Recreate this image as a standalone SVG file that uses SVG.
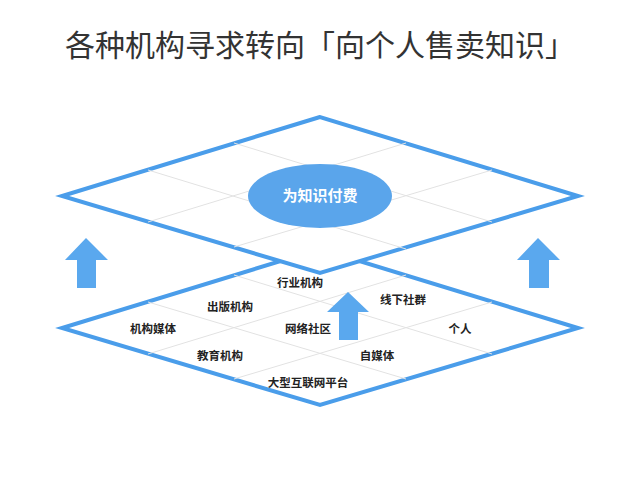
<svg xmlns="http://www.w3.org/2000/svg" width="640" height="480" viewBox="0 0 640 480">
<style>
.dia{fill:#fff;stroke:#4A9DEA;stroke-width:4;stroke-linejoin:miter}
.grid{stroke:#e2e2e2;stroke-width:1;fill:none}
.arr{fill:#5AA8EE}
.lbl{font-family:"Noto Sans CJK SC",sans-serif;font-size:11.5px;font-weight:bold;fill:#222;text-anchor:middle}
</style>
<rect width="640" height="480" fill="#fff"/>
<text x="320" y="56" font-family="Noto Sans CJK SC,sans-serif" font-size="30" fill="#333" text-anchor="middle">各种机构寻求转向「向个人售卖知识」</text>
<g id="bottom-layer">
<polygon class="dia" points="320,249 62,328 320,405 578,328"/>
<g class="grid">
<line x1="148" y1="302" x2="406" y2="379"/><line x1="234" y1="275" x2="492" y2="354"/>
<line x1="148" y1="354" x2="406" y2="275"/><line x1="234" y1="379" x2="492" y2="302"/>
</g>
</g>
<g id="top-layer">
<polygon class="dia" points="320,117 62,196 320,273 578,196"/>
<g class="grid">
<line x1="148" y1="170" x2="406" y2="249"/><line x1="234" y1="143" x2="492" y2="222"/>
<line x1="148" y1="222" x2="406" y2="143"/><line x1="234" y1="247" x2="492" y2="170"/>
</g>
</g>
<g id="center-node">
<ellipse cx="320" cy="196" rx="72" ry="32" fill="#5AA5EB"/>
<text x="320" y="201" font-family="Noto Sans CJK SC,sans-serif" font-size="15" font-weight="bold" fill="#fff" text-anchor="middle">为知识付费</text>
</g>
<g id="connectors">
<polygon class="arr" points="86,238 108,260 96,260 96,288 77,288 77,260 65,260"/>
<polygon class="arr" points="538,238 560,260 549,260 549,288 529,288 529,260 517,260"/>
<polygon class="arr" points="348,292 369,312 358,312 358,340 339,340 339,312 327,312"/>
</g>
<g id="labels">
<text class="lbl" x="300" y="287">行业机构</text>
<text class="lbl" x="230" y="311">出版机构</text>
<text class="lbl" x="403" y="304">线下社群</text>
<text class="lbl" x="153" y="333">机构媒体</text>
<text class="lbl" x="308" y="333">网络社区</text>
<text class="lbl" x="460" y="333">个人</text>
<text class="lbl" x="220" y="360">教育机构</text>
<text class="lbl" x="377" y="360">自媒体</text>
<text class="lbl" x="308" y="387">大型互联网平台</text>
</g>
</svg>
